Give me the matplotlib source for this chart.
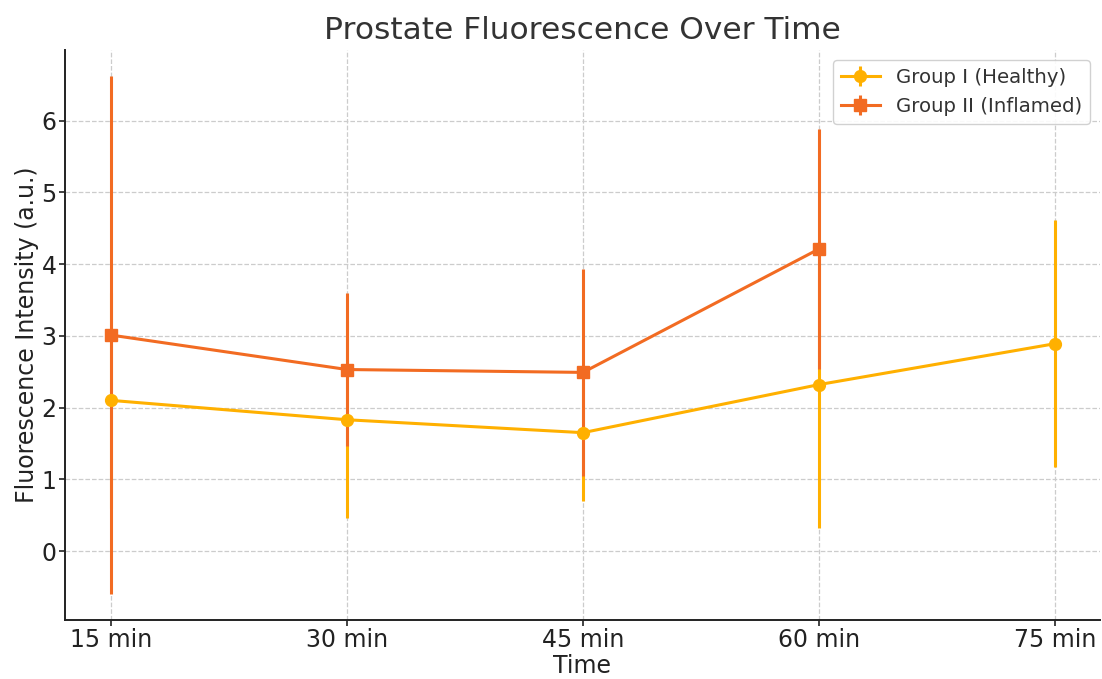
import matplotlib.pyplot as plt
import numpy as np

plt.rcParams.update({
    "font.family": "DejaVu Sans",
    "font.size": 14,
})

times = ["15 min", "30 min", "45 min", "60 min", "75 min"]

healthy_mean = [2.10, 1.83, 1.65, 2.32, 2.89]
healthy_err = [1.50, 1.37, 0.95, 2.00, 1.72]

inflamed_mean = [3.01, 2.53, 2.49, 4.21]
inflamed_err = [3.61, 1.06, 1.44, 1.67]

c_healthy = "#FFB000"
c_inflamed = "#F26B22"

fig = plt.figure(figsize=(11.02, 6.79), dpi=100)
ax = fig.add_axes([0.059, 0.087, 0.939, 0.839])

x = np.arange(len(times))
ax.errorbar(x, healthy_mean, yerr=healthy_err, color=c_healthy, marker="o",
            markersize=8.5, linewidth=2.2, elinewidth=2.2, capsize=0,
            label="Group I (Healthy)")
ax.errorbar(x[:len(inflamed_mean)], inflamed_mean, yerr=inflamed_err,
            color=c_inflamed, marker="s", markersize=8.5, linewidth=2.2,
            elinewidth=2.2, capsize=0, label="Group II (Inflamed)")

ax.set_xticks(x)
ax.set_xticklabels(times)
ax.set_xlim(-0.195, 4.19)
ax.set_ylim(-0.96, 6.98)
ax.set_yticks(range(0, 7))
ax.tick_params(labelsize=17, colors="#222222", length=4, width=1.2, pad=2)

ax.set_xlabel("Time", fontsize=17, color="#222222", labelpad=1)
ax.set_ylabel("Fluorescence Intensity (a.u.)", fontsize=17, color="#222222", labelpad=2)
ax.set_title("Prostate Fluorescence Over Time", fontsize=22.5, color="#333333", pad=8)

ax.grid(True, linestyle="--", color="#cccccc", linewidth=0.9)
ax.set_axisbelow(True)
for s in ["top", "right"]:
    ax.spines[s].set_visible(False)
for s in ["left", "bottom"]:
    ax.spines[s].set_linewidth(1.4)
    ax.spines[s].set_color("#222222")

leg = ax.legend(loc="upper right", fontsize=14.2, framealpha=0.9,
                labelcolor="#333333", borderpad=0.4, borderaxespad=0.5)
leg.get_frame().set_edgecolor("#cccccc")

fig.savefig("out.png", dpi=100)
